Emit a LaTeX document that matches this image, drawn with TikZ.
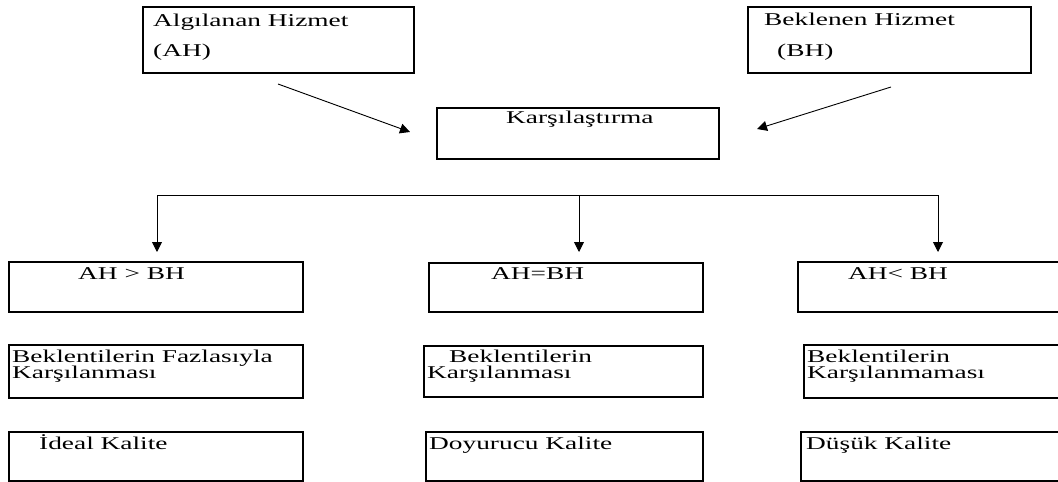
\documentclass[tikz,border=0pt]{standalone}
\usepackage{fontspec}
\setmainfont[FakeStretch=1.52]{Liberation Serif}
\usetikzlibrary{arrows.meta}
\begin{document}
\begin{tikzpicture}[x=1pt,y=-1pt,
  box/.style={draw=black, line width=1.1pt, rectangle, inner sep=0pt},
  txt/.style={anchor=base west, inner sep=0pt},
  conn/.style={line width=0.9pt, draw=black},
  arr/.style={conn, -{Triangle[length=10pt,width=10pt]}},
  font=\fontsize{18}{18}\selectfont]
\useasboundingbox (0,0) rectangle (1058,482);
% top boxes
\node[box, minimum width=271pt, minimum height=66pt] (ah) at (278.5,40) {};
\node[box, minimum width=283pt, minimum height=66pt] (bh) at (889.5,40) {};
\node[box, minimum width=282pt, minimum height=51pt] (cmp) at (578,133.5) {};
\node[txt] (ahA) at (153,26) {Algılanan Hizmet};
\node[txt] (ahB) at (153,56) {(AH)};
\node[txt] (bhA) at (764,25) {Beklenen Hizmet};
\node[txt] (bhB) at (777,56) {(BH)};
\node[txt] (cmpT) at (506,123) {Karşılaştırma};
% arrows into comparison
\coordinate (ahS) at (278,84);
\coordinate (ahE) at (410,132);
\coordinate (bhS) at (891,87);
\coordinate (bhE) at (757,129);
\draw[arr] (ahS) -- (ahE);
\draw[arr] (bhS) -- (bhE);
% row 1
\node[box, minimum width=294pt, minimum height=50pt] (l1) at (156,287) {};
\node[box, minimum width=274pt, minimum height=49pt] (m1) at (566,287.5) {};
\node[box, minimum width=272pt, minimum height=50pt] (r1) at (934,287) {};
\node[txt] (l1T) at (78,279) {AH > BH};
\node[txt] (m1T) at (491,279) {AH=BH};
\node[txt] (r1T) at (848,279) {AH< BH};
% row 2
\node[box, minimum width=294pt, minimum height=53pt] (l2) at (156,371.5) {};
\node[box, minimum width=279pt, minimum height=51pt] (m2) at (563.5,371.5) {};
\node[box, minimum width=266pt, minimum height=53pt] (r2) at (937,371.5) {};
\node[txt] (l2A) at (12,362) {Beklentilerin Fazlasıyla};
\node[txt] (l2B) at (12,378) {Karşılanması};
\node[txt] (m2A) at (449,362) {Beklentilerin};
\node[txt] (m2B) at (427,378) {Karşılanması};
\node[txt] (r2A) at (807,362) {Beklentilerin};
\node[txt] (r2B) at (807,378) {Karşılanmaması};
% row 3
\node[box, minimum width=294pt, minimum height=49pt] (l3) at (156,456.5) {};
\node[box, minimum width=277pt, minimum height=49pt] (m3) at (564.5,456.5) {};
\node[box, minimum width=269pt, minimum height=49pt] (r3) at (935.5,456.5) {};
\node[txt] (l3T) at (39,449) {İdeal Kalite};
\node[txt] (m3T) at (429,449) {Doyurucu Kalite};
\node[txt] (r3T) at (806,449) {Düşük Kalite};
% distribution line
\coordinate (hl) at (157,195);
\coordinate (hm) at (579,195);
\coordinate (hr) at (938,195);
\coordinate (al) at (157,252);
\coordinate (am) at (579,252);
\coordinate (ar) at (938,252);
\draw[conn] (hl) -- (hr);
\draw[arr] (hl) -- (al);
\draw[arr] (hm) -- (am);
\draw[arr] (hr) -- (ar);
\end{tikzpicture}
\end{document}
